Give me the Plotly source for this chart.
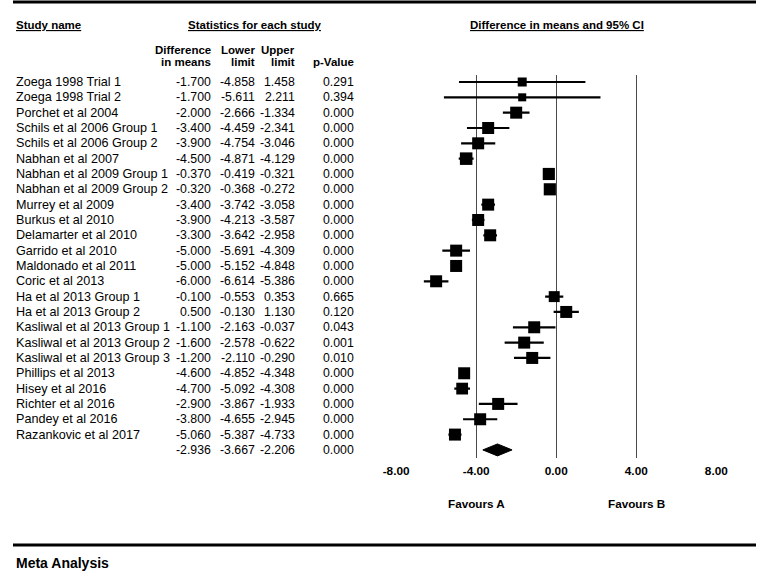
import plotly.graph_objects as go

studies = ["Zoega 1998 Trial 1", "Zoega 1998 Trial 2", "Porchet et al 2004",
           "Schils et al 2006 Group 1", "Schils et al 2006 Group 2", "Nabhan et al 2007",
           "Nabhan et al 2009 Group 1", "Nabhan et al 2009 Group 2", "Murrey et al 2009",
           "Burkus et al 2010", "Delamarter et al 2010", "Garrido et al 2010",
           "Maldonado et al 2011", "Coric et al 2013", "Ha et al 2013 Group 1",
           "Ha et al 2013 Group 2", "Kasliwal et al 2013 Group 1", "Kasliwal et al 2013 Group 2",
           "Kasliwal et al 2013 Group 3", "Phillips et al 2013", "Hisey et al 2016",
           "Richter et al 2016", "Pandey et al 2016", "Razankovic et al 2017"]
diff = [-1.700, -1.700, -2.000, -3.400, -3.900, -4.500, -0.370, -0.320, -3.400, -3.900,
        -3.300, -5.000, -5.000, -6.000, -0.100, 0.500, -1.100, -1.600, -1.200, -4.600,
        -4.700, -2.900, -3.800, -5.060]
lower = [-4.858, -5.611, -2.666, -4.459, -4.754, -4.871, -0.419, -0.368, -3.742, -4.213,
         -3.642, -5.691, -5.152, -6.614, -0.553, -0.130, -2.163, -2.578, -2.110, -4.852,
         -5.092, -3.867, -4.655, -5.387]
upper = [1.458, 2.211, -1.334, -2.341, -3.046, -4.129, -0.321, -0.272, -3.058, -3.587,
         -2.958, -4.309, -4.848, -5.386, 0.353, 1.130, -0.037, -0.622, -0.290, -4.348,
         -4.308, -1.933, -2.945, -4.733]
pval = [0.291, 0.394, 0.000, 0.000, 0.000, 0.000, 0.000, 0.000, 0.000, 0.000, 0.000,
        0.000, 0.000, 0.000, 0.665, 0.120, 0.043, 0.001, 0.010, 0.000, 0.000, 0.000,
        0.000, 0.000]
# relative study weights (box area)
weights = [4.4, 3.5, 7.8, 7.8, 7.8, 8.5, 8.0, 8.0, 7.8, 7.8, 7.8, 7.8, 7.8, 7.8,
           6.5, 7.8, 7.8, 7.8, 7.8, 7.8, 7.5, 7.8, 7.8, 7.8]
summary = {"diff": -2.936, "lower": -3.667, "upper": -2.206, "p": 0.000}
tick_vals = [-8, -4, 0, 4, 8]
tick_text = ["-8.00", "-4.00", "0.00", "4.00", "8.00"]

W, H = 768, 574
FONT = "Liberation Sans, Arial, sans-serif"
ROW0, ROWH = 82.0, 15.33
TOP_PX, BOT_PX = 75.0, 458.0

def row_of(px):
    return (px - ROW0) / ROWH

def py(px):
    return 1 - px / H

def pxx(px):
    return px / W

rows = list(range(len(studies)))
sum_row = len(studies)

fig = go.Figure()

# study boxes with CIs
fig.add_trace(go.Scatter(
    x=diff, y=rows, mode="markers",
    marker=dict(symbol="square", color="black", opacity=1,
                size=[4.3 * (w ** 0.5) for w in weights], line=dict(width=0)),
    error_x=dict(type="data", symmetric=False,
                 array=[u - d for u, d in zip(upper, diff)],
                 arrayminus=[d - l for d, l in zip(diff, lower)],
                 color="black", thickness=2.2, width=0),
    cliponaxis=False, showlegend=False, hoverinfo="skip"))

# summary diamond
hh = 0.39
fig.add_trace(go.Scatter(
    x=[summary["lower"], summary["diff"], summary["upper"], summary["diff"], summary["lower"]],
    y=[sum_row, sum_row - hh, sum_row, sum_row + hh, sum_row],
    mode="lines", fill="toself", fillcolor="black", line=dict(color="black", width=1),
    showlegend=False, hoverinfo="skip"))

fig.update_xaxes(domain=[396 / W, 727 / W], range=[-8, 8], tickvals=tick_vals,
                 ticktext=tick_text, showgrid=True, gridcolor="#4a4a4a", gridwidth=1.2,
                 zeroline=False, showline=False, ticks="outside", ticklen=2,
                 tickcolor="rgba(0,0,0,0)",
                 tickfont=dict(family=FONT, size=11.8, color="black", weight="bold"))
fig.update_yaxes(domain=[py(BOT_PX), py(TOP_PX)], range=[row_of(BOT_PX), row_of(TOP_PX)],
                 showgrid=False, zeroline=False, showticklabels=False, showline=False)

ann = []
def txt(x, y, text, xanchor="left", yref="paper", size=12.3, bold=False):
    ann.append(dict(x=x, y=y, xref="paper", yref=yref, text=text, showarrow=False,
                    xanchor=xanchor, yanchor="middle", borderpad=0, borderwidth=0,
                    font=dict(family=FONT, size=size, color="black",
                              weight="bold" if bold else "normal")))

# headers
txt(pxx(3), py(25), "<u>Study name</u>", size=11.5, bold=True)
txt(pxx(250), py(25), "<u>Statistics for each study</u>", xanchor="center", size=11.5, bold=True)
txt(pxx(562), py(25), "<u>Difference in means and 95% CI</u>", xanchor="center", size=11.5, bold=True)
col_right = [205, 250, 292, 352]
txt(pxx(col_right[0]), py(50), "Difference", xanchor="right", size=11.5, bold=True)
txt(pxx(col_right[0]), py(62), "in means", xanchor="right", size=11.5, bold=True)
txt(pxx(col_right[1]), py(50), "Lower", xanchor="right", size=11.5, bold=True)
txt(pxx(col_right[1]), py(62), "limit", xanchor="right", size=11.5, bold=True)
txt(pxx(col_right[2]), py(50), "Upper", xanchor="right", size=11.5, bold=True)
txt(pxx(col_right[2]), py(62), "limit", xanchor="right", size=11.5, bold=True)
txt(pxx(col_right[3]), py(62), "p-Value", xanchor="right", size=11.5, bold=True)

for i, s in enumerate(studies):
    txt(pxx(3), i, s, yref="y", size=12.6)
    for c, v in zip(col_right, [diff[i], lower[i], upper[i], pval[i]]):
        txt(pxx(c), i, f"{v:.3f}", xanchor="right", yref="y")
for c, v in zip(col_right, [summary["diff"], summary["lower"], summary["upper"], summary["p"]]):
    txt(pxx(c), sum_row, f"{v:.3f}", xanchor="right", yref="y")

# favours labels at x=-4 and x=4
for xv, t in [(-4, "Favours A"), (4, "Favours B")]:
    ann.append(dict(x=xv, y=py(503), xref="x", yref="paper", text=t, showarrow=False,
                    xanchor="center", yanchor="middle",
                    font=dict(family=FONT, size=11.7, color="black", weight="bold")))

txt(pxx(3), py(563), "Meta Analysis", size=14, bold=True)

shapes = [
    dict(type="line", xref="paper", yref="paper", x0=0, x1=1, y0=py(2), y1=py(2),
         line=dict(color="black", width=3)),
    dict(type="line", xref="paper", yref="paper", x0=0, x1=1, y0=py(545), y1=py(545),
         line=dict(color="black", width=3)),
]

fig.update_layout(width=W, height=H, margin=dict(l=0, r=0, t=0, b=0),
                  paper_bgcolor="white", plot_bgcolor="white",
                  annotations=ann, shapes=shapes, showlegend=False)

fig.write_html("out.html", config={"displayModeBar": False},
               post_script="document.body.style.margin='0';document.body.style.overflow='hidden';")
